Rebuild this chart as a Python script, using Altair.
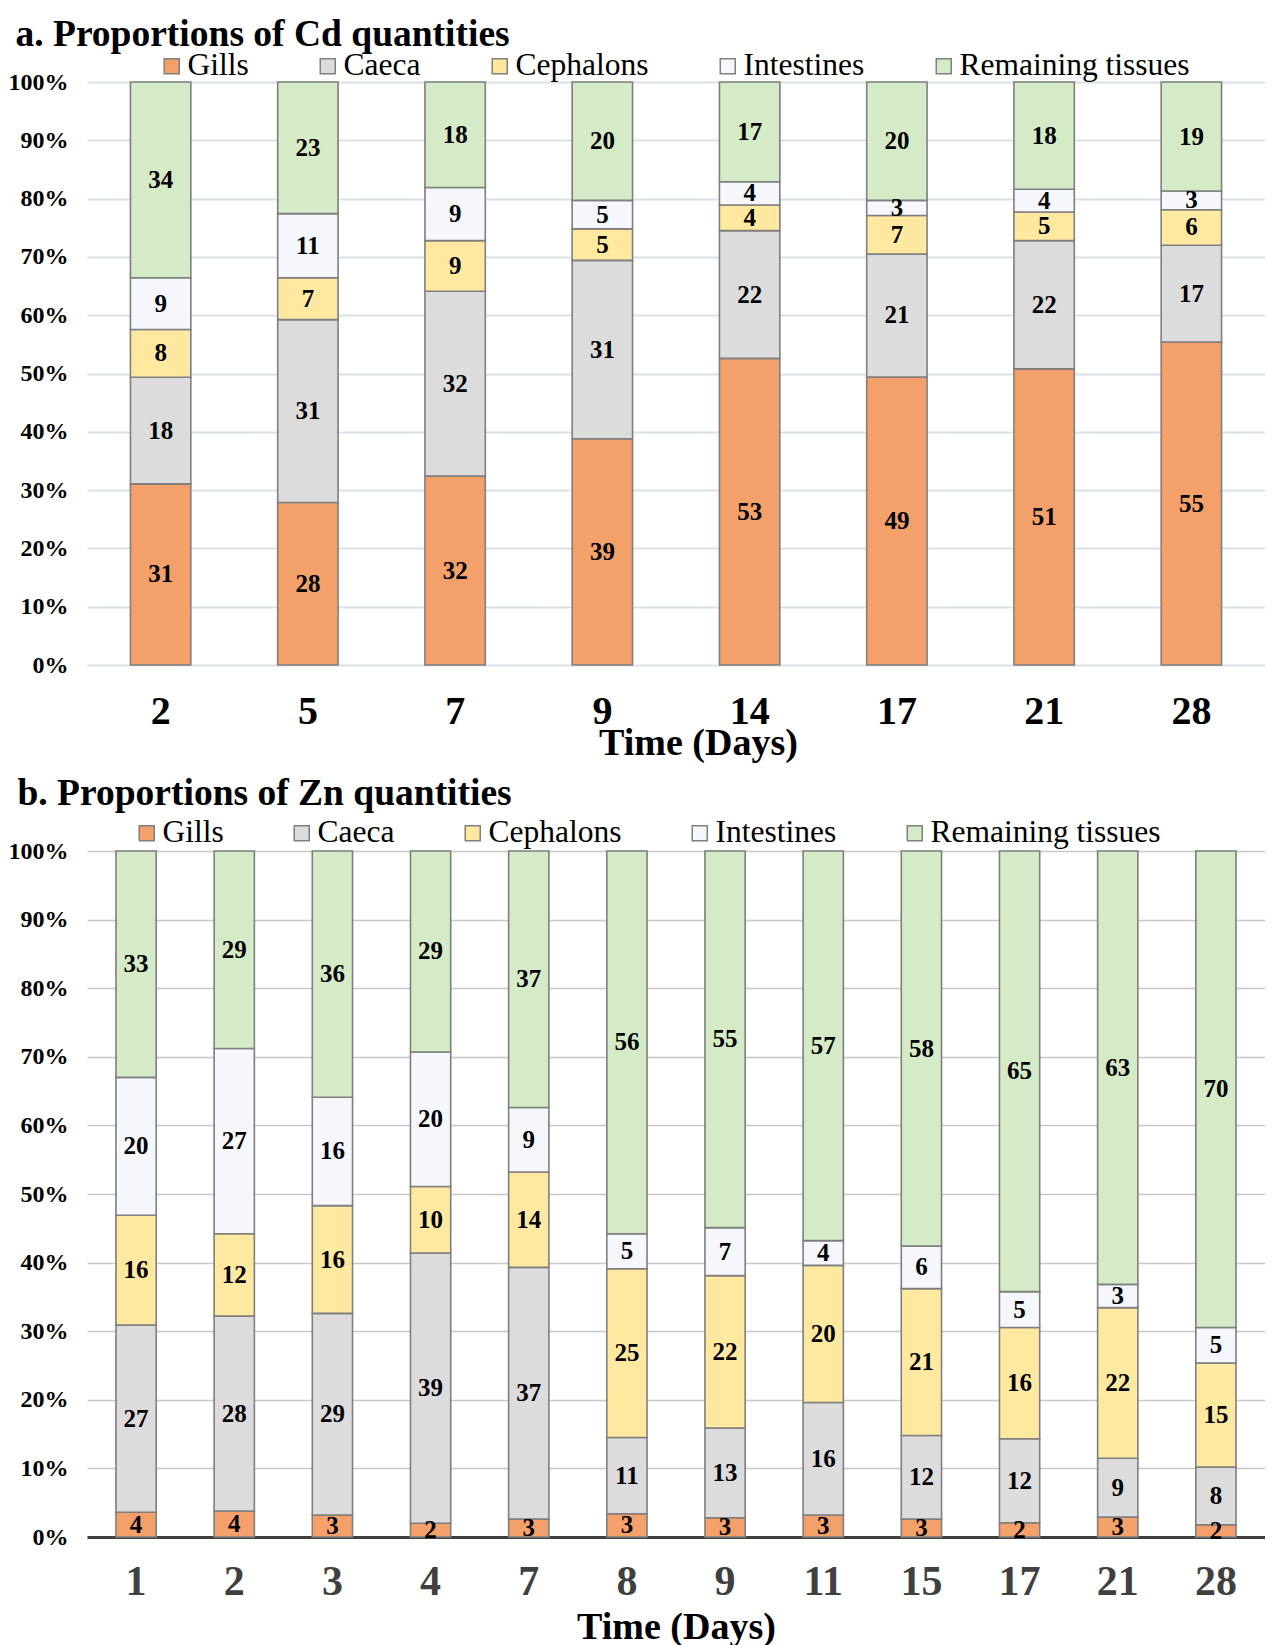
import altair as alt
import pandas as pd

tissues = ["Gills", "Caeca", "Cephalons", "Intestines", "Remaining tissues"]
colors = ["#F3A06B", "#DCDCDC", "#FFE9A0", "#F5F7FD", "#D5EAC6"]

# Panel a: Cd proportions (%)
days_a = ["2", "5", "7", "9", "14", "17", "21", "28"]
cd_gills = [31.1, 27.9, 32.4, 38.8, 52.6, 49.4, 50.8, 55.4]
cd_caeca = [18.3, 31.4, 31.7, 30.6, 21.9, 21.1, 22.0, 16.6]
cd_ceph = [8.2, 7.2, 8.7, 5.4, 4.4, 6.6, 4.9, 6.1]
cd_int = [8.9, 11.0, 9.1, 4.9, 4.0, 2.6, 3.9, 3.2]
cd_rem = [33.6, 22.6, 18.1, 20.3, 17.1, 20.3, 18.4, 18.7]

# Panel b: Zn proportions (%)
days_b = ["1", "2", "3", "4", "7", "8", "9", "11", "15", "17", "21", "28"]
zn_gills = [3.6, 3.8, 3.2, 2.0, 2.6, 3.4, 2.8, 3.2, 2.6, 2.1, 2.9, 1.8]
zn_caeca = [27.3, 28.4, 29.4, 39.4, 36.7, 11.1, 13.1, 16.4, 12.2, 12.4, 8.6, 8.4]
zn_ceph = [16.0, 12.0, 15.7, 9.7, 13.9, 24.6, 22.2, 20.0, 21.4, 16.4, 22.0, 15.2]
zn_int = [20.1, 27.0, 15.8, 19.6, 9.4, 5.1, 7.0, 3.6, 6.2, 5.3, 3.4, 5.2]
zn_rem = [33.0, 28.8, 35.9, 29.3, 37.4, 55.8, 54.9, 56.8, 57.6, 65.0, 63.3, 69.6]

FONT = "Liberation Serif"
W = 1178


def make_df(days, series):
    rows = []
    for i, d in enumerate(days):
        for k, (t, vals) in enumerate(zip(tissues, series)):
            rows.append({"day": d, "tissue": t, "order": k, "value": vals[i]})
    return pd.DataFrame(rows)


def panel(df, days, title, height, legend_x, legend_y, x_label_size, x_label_color,
          x_label_pad, x_title_pad, x_title_x, grid_color, grid_width, domain,
          title_dx, title_offset, col_pad):
    base = alt.Chart(df)
    x_axis = alt.Axis(
        labelAngle=0, labelFont=FONT, labelFontSize=x_label_size, labelFontWeight="bold",
        labelColor=x_label_color, labelPadding=x_label_pad, ticks=False, domain=domain,
        domainColor="#404040", domainWidth=3, title="Time (Days)", titleFont=FONT,
        titleFontSize=38, titleFontWeight="bold", titleColor="black",
        titlePadding=x_title_pad, titleX=x_title_x,
    )
    y_axis = alt.Axis(
        values=[i / 10 for i in range(11)], format=".0%", labelFont=FONT, labelFontSize=24,
        labelFontWeight="bold", labelColor="black", ticks=False, domain=False,
        labelPadding=19, gridColor=grid_color, gridWidth=grid_width, title=None,
    )
    bars = base.mark_bar(stroke="#7F7F7F", strokeWidth=1.6).encode(
        x=alt.X("day:N", sort=days, scale=alt.Scale(paddingInner=0.59, paddingOuter=0.295),
                axis=x_axis),
        y=alt.Y("value:Q", stack="normalize", scale=alt.Scale(domain=[0, 1]), axis=y_axis),
        color=alt.Color(
            "tissue:N", sort=tissues, scale=alt.Scale(domain=tissues, range=colors),
            legend=alt.Legend(
                orient="none", legendX=legend_x, legendY=legend_y, direction="horizontal",
                columns=5, symbolType="square", symbolSize=225, symbolStrokeColor="#7F7F7F",
                symbolStrokeWidth=1.5, labelFont=FONT, labelFontSize=31.5, labelColor="black",
                labelOffset=0, columnPadding=col_pad, title=None, padding=0, labelLimit=400,
            ),
        ),
        order=alt.Order("order:Q"),
    )
    labels = base.transform_stack(
        stack="value", groupby=["day"], as_=["y0", "y1"],
        sort=[alt.SortField("order", order="ascending")], offset="normalize",
    ).transform_calculate(mid="(datum.y0 + datum.y1) / 2").mark_text(
        font=FONT, fontSize=25, fontWeight="bold", color="black", baseline="middle",
    ).encode(
        x=alt.X("day:N", sort=days),
        y=alt.Y("mid:Q"),
        text=alt.Text("value:Q", format=".0f"),
    )
    return alt.layer(bars, labels).properties(
        width=W, height=height,
        title=alt.TitleParams(title, anchor="start", frame="bounds", font=FONT, fontSize=37.5,
                              fontWeight="bold", color="black", offset=title_offset,
                              dx=title_dx),
    )


df_a = make_df(days_a, [cd_gills, cd_caeca, cd_ceph, cd_int, cd_rem])
df_b = make_df(days_b, [zn_gills, zn_caeca, zn_ceph, zn_int, zn_rem])

chart_a = panel(df_a, days_a, "a. Proportions of Cd quantities", 583, 69, -32, 40, "black",
                26, -7, 611, "#DCE1E8", 2, False, 7.5, -3, 63)
chart_b = panel(df_b, days_b, "b. Proportions of Zn quantities", 686, 44, -34, 42, "#404040",
                24, 6, 589, "#C8C8C8", 1.5, True, 9.5, 5, 62)

chart = alt.vconcat(chart_a, chart_b, spacing=12).resolve_scale(
    color="independent", x="independent", y="independent"
).resolve_legend(color="independent").configure_view(stroke=None).properties(
    padding={"left": 0, "top": 7, "right": 0, "bottom": 0}
)

chart.save("out.html", embed_options={"renderer": "svg", "actions": False})
